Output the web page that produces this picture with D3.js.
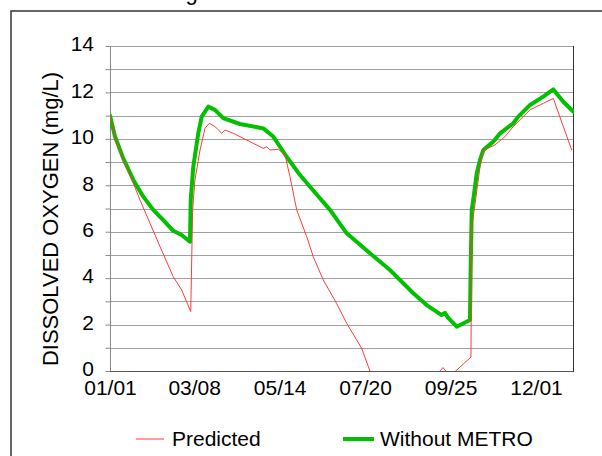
<!DOCTYPE html>
<html>
<head>
<meta charset="utf-8">
<script src="https://cdn.jsdelivr.net/npm/d3@7"></script>
<style>
  html, body { margin: 0; padding: 0; background: #fff; }
  svg { display: block; font-family: "Liberation Sans", Arial, sans-serif; }
</style>
</head>
<body>
<svg id="chart" width="602" height="456"></svg>
<script>
// ---- Data (day of year, DO mg/L) ----
const tickDays = [0, 66, 133, 200, 267, 334];
const tickLabels = ["01/01", "03/08", "05/14", "07/20", "09/25", "12/01"];
const yTicks = [0, 2, 4, 6, 8, 10, 12, 14];

const withoutDays = [0, 3.9, 10.4, 18.3, 26.1, 33.9, 41.8, 49.6, 56.2, 62.7, 63.3, 65.3, 69.2, 71.9, 77.1, 82.3, 88.8, 101.9, 120.2, 128, 133.3, 138.5, 149, 156.8, 172.5, 185.6, 203.8, 219.5, 237.8, 248.3, 260, 262.6, 265, 271.8, 282.2, 282.8, 283.6, 284.8, 287.5, 290.1, 292.7, 300.5, 305.8, 316.2, 320.1, 329.3, 339.7, 347.6, 355.4, 363.2];
const withoutVals = [11.0, 10.1, 9.16, 8.23, 7.51, 6.94, 6.5, 6.04, 5.86, 5.57, 7.37, 8.8, 10.24, 10.96, 11.39, 11.25, 10.89, 10.64, 10.45, 10.1, 9.66, 9.23, 8.44, 7.94, 6.94, 5.93, 5.07, 4.35, 3.35, 2.84, 2.41, 2.5, 2.3, 1.91, 2.2, 4.49, 6.94, 7.37, 8.51, 9.09, 9.52, 9.88, 10.24, 10.67, 10.96, 11.46, 11.82, 12.13, 11.6, 11.17];

const predDays = [0, 3.9, 10.4, 15.7, 23.5, 31.4, 39.2, 49.6, 56.2, 63.3, 64.8, 66.6, 70.6, 74.5, 77.9, 82.3, 87.6, 90.2, 96.7, 107.2, 120.2, 122.9, 125.4, 132, 137.2, 141.1, 146.4, 154.2, 159.4, 167.2, 177.7, 185.6, 197.3, 203.8, 212, 230, 250, 255, 258.7, 261, 263.4, 266.6, 271, 283, 283.6, 286.2, 290.1, 292.7, 301.8, 309.7, 316.2, 329.3, 339.7, 347.6, 355.4, 362];
const predVals = [11.0, 10.1, 9.1, 8.44, 7.37, 6.36, 5.36, 4.06, 3.49, 2.56, 6.94, 8.23, 9.52, 10.46, 10.67, 10.53, 10.24, 10.38, 10.24, 9.95, 9.59, 9.66, 9.52, 9.55, 9.31, 8.37, 6.94, 5.79, 4.92, 3.92, 2.91, 2.05, 0.98, 0.0, -0.6, -0.8, -0.5, -0.2, 0.0, 0.15, 0.0, -0.2, 0.0, 0.6, 6.2, 7.2, 8.8, 9.5, 9.74, 10.1, 10.53, 11.25, 11.53, 11.74, 10.53, 9.52];

const seriesNames = ["Predicted", "Without METRO"];
const seriesColors = ["#ff3b3b", "#00c000"];

// ---- Layout ----
const svg = d3.select("#chart");
const L = 110, R = 573, T = 46, B = 371;

const x = d3.scaleLinear().domain([0, 363]).range([L, R]);
const y = d3.scaleLinear().domain([0, 14]).range([B, T]);

// outer chart border
svg.append("rect").attr("x", 11).attr("y", 11).attr("width", 700).attr("height", 600)
  .attr("fill", "none").attr("stroke", "#333").attr("stroke-width", 1.5);

// title (almost entirely above the visible area; only a descender shows)
svg.append("text").attr("x", 95).attr("y", 0).attr("text-anchor", "start")
  .attr("font-size", 22).attr("fill", "#000").text("Monitoring Station");

// gridlines
svg.append("g").selectAll("line").data(d3.range(1, 15)).join("line")
  .attr("x1", L).attr("x2", R)
  .attr("y1", d => Math.round(y(d)) + 0.5).attr("y2", d => Math.round(y(d)) + 0.5)
  .attr("stroke", "#a0a0a0").attr("stroke-width", 1);

// y axis
const yAxisMinor = d3.axisLeft(y).tickValues(d3.range(0, 15)).tickSize(5).tickFormat("");
const gy = svg.append("g").attr("transform", `translate(${L + 0.5},0)`).call(yAxisMinor);
gy.selectAll("path,line").attr("stroke", "#888");
gy.select(".domain").attr("d", `M0,${T}V${B}`);

const gyl = svg.append("g").attr("transform", `translate(${L},-2)`)
  .call(d3.axisLeft(y).tickValues(yTicks).tickSize(0).tickPadding(16).tickFormat(d3.format("d")));
gyl.select(".domain").remove();
gyl.selectAll("text").attr("font-size", 21).attr("fill", "#000")
  .attr("font-family", '"Liberation Sans", Arial, sans-serif');

// x axis
const gx = svg.append("g").attr("transform", `translate(0,${B + 0.5})`)
  .call(d3.axisBottom(x).tickValues(tickDays).tickSize(0).tickPadding(9)
    .tickFormat((d, i) => tickLabels[i]));
gx.select(".domain").attr("stroke", "#555").attr("d", `M${L},0H${R}`);
gx.selectAll("text").attr("font-size", 21).attr("fill", "#000")
  .attr("font-family", '"Liberation Sans", Arial, sans-serif');

// right frame
svg.append("line").attr("x1", R + 0.5).attr("x2", R + 0.5).attr("y1", T).attr("y2", B + 1)
  .attr("stroke", "#333").attr("stroke-width", 1);

// y title
svg.append("text").attr("transform", "translate(58,219) rotate(-90)")
  .attr("text-anchor", "middle").attr("font-size", 22).attr("fill", "#000")
  .text("DISSOLVED OXYGEN (mg/L)");

// clip
svg.append("clipPath").attr("id", "plotclip").append("rect")
  .attr("x", L).attr("y", T - 5).attr("width", R - L + 1).attr("height", B - T + 5);

const line = d3.line().x(d => x(d[0])).y(d => y(d[1]));
const plot = svg.append("g").attr("clip-path", "url(#plotclip)");

plot.append("path").datum(withoutDays.map((d, i) => [d, withoutVals[i]]))
  .attr("d", line).attr("fill", "none").attr("stroke", seriesColors[1])
  .attr("stroke-width", 4).attr("stroke-linejoin", "round").attr("stroke-linecap", "round");

plot.append("path").datum(predDays.map((d, i) => [d, predVals[i]]))
  .attr("d", line).attr("fill", "none").attr("stroke", seriesColors[0])
  .attr("stroke-width", 1);

// legend
const legend = [
  { name: seriesNames[0], color: seriesColors[0], w: 1, x1: 136, x2: 164, tx: 172 },
  { name: seriesNames[1], color: seriesColors[1], w: 4, x1: 343, x2: 374, tx: 380 }
];
const lg = svg.append("g");
legend.forEach(l => {
  lg.append("line").attr("x1", l.x1).attr("x2", l.x2).attr("y1", 439).attr("y2", 439)
    .attr("stroke", l.color).attr("stroke-width", l.w);
  lg.append("text").attr("x", l.tx).attr("y", 446).attr("font-size", 21).attr("fill", "#000")
    .text(l.name);
});
</script>
</body>
</html>
